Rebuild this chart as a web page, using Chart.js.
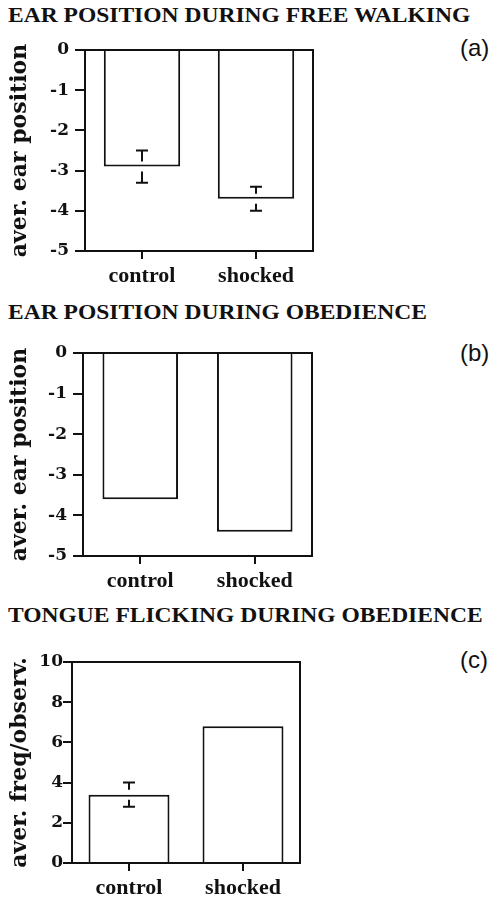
<!DOCTYPE html>
<html>
<head>
<meta charset="utf-8">
<script src="https://cdn.jsdelivr.net/npm/chart.js@4.4.1/dist/chart.umd.min.js"></script>
<style>
  html, body { margin: 0; padding: 0; background: #fff; }
  body { width: 492px; height: 897px; position: relative; overflow: hidden; }
  .title {
    position: absolute; left: 8px; white-space: nowrap;
    font-family: "Liberation Serif", serif; font-weight: bold;
    font-size: 21px; line-height: 21px; color: #111;
    transform: scaleX(1.12); transform-origin: left top;
  }
  .tag {
    position: absolute; left: 460px;
    font-family: "Liberation Sans", sans-serif; font-size: 24px; line-height: 24px; color: #111;
  }
  canvas { position: absolute; left: 0; }
</style>
</head>
<body>
<div class="title" style="top:5px">EAR POSITION DURING FREE WALKING</div>
<div class="tag" style="top:36px">(a)</div>
<canvas id="chartA" width="492" height="272" style="top:28px"></canvas>

<div class="title" style="top:302px">EAR POSITION DURING OBEDIENCE</div>
<div class="tag" style="top:341px">(b)</div>
<canvas id="chartB" width="492" height="272" style="top:328px"></canvas>

<div class="title" style="top:605px">TONGUE FLICKING DURING OBEDIENCE</div>
<div class="tag" style="top:648px">(c)</div>
<canvas id="chartC" width="492" height="257" style="top:640px"></canvas>

<script>
// data
const categories = ["control", "shocked"];

const earWalkValues = [-2.9, -3.7];
const earWalkErrHigh = [-2.5, -3.4];
const earWalkErrLow = [-3.3, -4.0];

const earObedValues = [-3.6, -4.4];

const tongueValues = [3.4, 6.8];
const tongueErrHigh = [4.0, null];
const tongueErrLow = [2.8, null];

const earTicks = [0, -1, -2, -3, -4, -5];
const tongueTicks = [10, 8, 6, 4, 2, 0];

const INK = "#111";

// box around the plot area
const framePlugin = {
    id: "frame",
    afterDraw(chart) {
        const { ctx, chartArea: a } = chart;
        ctx.save();
        ctx.strokeStyle = INK;
        ctx.lineWidth = 2;
        ctx.strokeRect(a.left, a.top, a.right - a.left, a.bottom - a.top);
        ctx.restore();
    }
};

// error whiskers with a small gap where they cross the bar end
const errorBarPlugin = {
    id: "errorBars",
    afterDatasetsDraw(chart, args, opts) {
        if (!opts.high) return;
        const { ctx } = chart;
        const yScale = chart.scales.y;
        const meta = chart.getDatasetMeta(0);
        const values = chart.data.datasets[0].data;
        ctx.save();
        ctx.strokeStyle = INK;
        ctx.lineWidth = 2;
        meta.data.forEach((bar, i) => {
            if (opts.high[i] == null) return;
            const x = bar.x;
            const yv = yScale.getPixelForValue(values[i]);
            [opts.high[i], opts.low[i]].forEach(v => {
                const ye = yScale.getPixelForValue(v);
                const dir = Math.sign(yv - ye);
                ctx.beginPath();
                ctx.moveTo(x, ye);
                ctx.lineTo(x, yv - dir * 5);
                ctx.moveTo(x - 6, ye);
                ctx.lineTo(x + 6, ye);
                ctx.stroke();
            });
        });
        ctx.restore();
    }
};

function makeChart(id, opts) {
    const ctx = document.getElementById(id).getContext("2d");
    return new Chart(ctx, {
        type: "bar",
        data: {
            labels: categories,
            datasets: [{
                data: opts.values,
                backgroundColor: "#fff",
                borderColor: INK,
                borderWidth: 2,
                categoryPercentage: 1,
                barPercentage: opts.barPct
            }]
        },
        options: {
            responsive: false,
            animation: false,
            devicePixelRatio: 1,
            layout: { padding: { top: opts.top, right: opts.right, left: 0, bottom: 0 } },
            plugins: {
                legend: { display: false },
                tooltip: { enabled: false },
                errorBars: { high: opts.errHigh, low: opts.errLow }
            },
            scales: {
                x: {
                    offset: true,
                    grid: { offset: false, drawOnChartArea: false, drawTicks: true, tickLength: 8, color: INK, lineWidth: 2 },
                    border: { display: false },
                    ticks: {
                        color: INK, padding: 4,
                        font: { family: "'Liberation Serif', serif", weight: "bold", size: 22 }
                    },
                    afterFit: (scale) => { scale.height = opts.xHeight; }
                },
                y: {
                    min: opts.min, max: opts.max,
                    afterBuildTicks: (scale) => { scale.ticks = opts.ticks.map(v => ({ value: v })); },
                    grid: { drawOnChartArea: false, drawTicks: true, tickLength: opts.tickLen, color: INK, lineWidth: 2 },
                    border: { display: false },
                    ticks: {
                        color: INK, padding: opts.tickPad,
                        callback: (v) => String(v),
                        font: { family: "'DejaVu Serif', serif", weight: "bold", size: 17 }
                    },
                    title: {
                        display: true, text: opts.yTitle, color: INK, padding: { top: 7, bottom: 0 },
                        font: { family: "'DejaVu Serif', serif", weight: "bold", size: 22 }
                    },
                    afterFit: (scale) => { scale.width = opts.yWidth; }
                }
            }
        },
        plugins: [framePlugin, errorBarPlugin]
    });
}

makeChart("chartA", {
    values: earWalkValues, errHigh: earWalkErrHigh, errLow: earWalkErrLow,
    min: -5, max: 0, ticks: earTicks, yTitle: "aver. ear position",
    top: 22, right: 179, yWidth: 85, xHeight: 49, barPct: 0.67, tickLen: 10, tickPad: 6
});

makeChart("chartB", {
    values: earObedValues, errHigh: null, errLow: null,
    min: -5, max: 0, ticks: earTicks, yTitle: "aver. ear position",
    top: 25, right: 180, yWidth: 83, xHeight: 44, barPct: 0.66, tickLen: 10, tickPad: 6
});

makeChart("chartC", {
    values: tongueValues, errHigh: tongueErrHigh, errLow: tongueErrLow,
    min: 0, max: 10, ticks: tongueTicks, yTitle: "aver. freq/observ.",
    top: 22, right: 192, yWidth: 72, xHeight: 34, barPct: 0.71, tickLen: 9, tickPad: 0
});
</script>
</body>
</html>
